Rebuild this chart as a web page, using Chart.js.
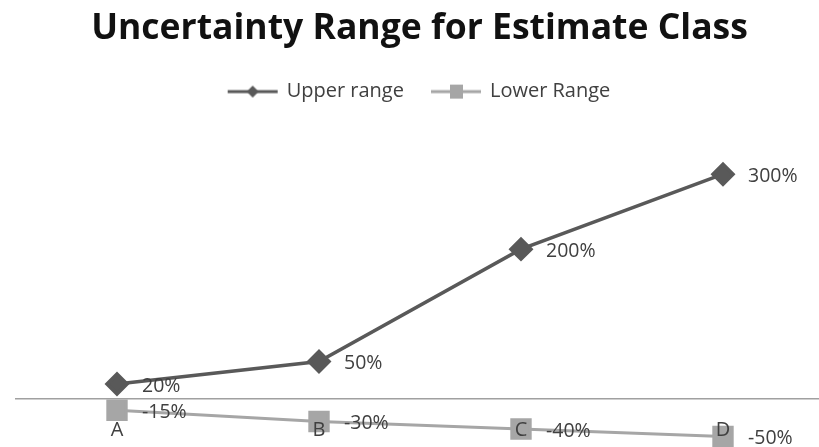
<!DOCTYPE html>
<html>
<head>
<meta charset="utf-8">
<script src="https://cdn.jsdelivr.net/npm/chart.js@4.4.1/dist/chart.umd.min.js"></script>
<style>
  html, body { margin: 0; padding: 0; background: #ffffff; overflow: hidden; }
  #wrap { width: 840px; height: 460px; }
</style>
</head>
<body>
<div id="wrap"><canvas id="chart" width="840" height="460"></canvas></div>
<script>
// Estimate classes and their uncertainty bounds (percent)
const classes = ['A', 'B', 'C', 'D'];
const upperRange = [20, 50, 200, 300];
const lowerRange = [-15, -30, -40, -50];

const upperColor = '#595959';
const lowerColor = '#a6a6a6';
const textColor = '#404040';
const fontFamily = '"Open Sans", Lato, sans-serif';

// Small line-with-marker swatch used as the legend symbol
function legendSwatch(color, style) {
  const c = document.createElement('canvas');
  c.width = 54; c.height = 20;
  const g = c.getContext('2d');
  g.strokeStyle = color;
  g.lineWidth = 3;
  g.beginPath();
  g.moveTo(2, 10); g.lineTo(52, 10);
  g.stroke();
  g.fillStyle = color;
  if (style === 'diamond') {
    g.beginPath();
    g.moveTo(27, 4); g.lineTo(33, 10); g.lineTo(27, 16); g.lineTo(21, 10);
    g.closePath(); g.fill();
  } else {
    g.fillRect(21, 3, 13, 14);
  }
  return c;
}

// Value labels printed to the right of each point
const valueLabels = {
  id: 'valueLabels',
  afterDatasetsDraw(chart) {
    const ctx = chart.ctx;
    ctx.save();
    ctx.font = '19.5px ' + fontFamily;
    ctx.fillStyle = textColor;
    ctx.textAlign = 'left';
    ctx.textBaseline = 'middle';
    chart.data.datasets.forEach((ds, i) => {
      const meta = chart.getDatasetMeta(i);
      meta.data.forEach((pt, j) => {
        ctx.fillText(ds.data[j] + '%', pt.x + 25, pt.y + 2);
      });
    });
    ctx.restore();
  }
};

new Chart(document.getElementById('chart'), {
  type: 'line',
  data: {
    labels: classes,
    datasets: [
      {
        label: 'Upper range',
        data: upperRange,
        borderColor: upperColor,
        backgroundColor: upperColor,
        borderWidth: 3.5,
        pointStyle: 'rectRot',
        pointRadius: 10,
        pointHoverRadius: 10,
        tension: 0,
        clip: false
      },
      {
        label: 'Lower Range',
        data: lowerRange,
        borderColor: lowerColor,
        backgroundColor: lowerColor,
        borderWidth: 3,
        pointStyle: 'rect',
        pointRadius: 13,
        pointHoverRadius: 13,
        tension: 0,
        clip: false
      }
    ]
  },
  options: {
    responsive: false,
    animation: false,
    events: [],
    layout: { padding: { left: 13, right: 14, top: 0, bottom: 11.4 } },
    plugins: {
      title: {
        display: true,
        text: 'Uncertainty Range for Estimate Class',
        color: '#111111',
        font: { family: fontFamily, size: 35.5, weight: 'bold' },
        padding: { top: 8, bottom: 3 }
      },
      legend: {
        display: true,
        position: 'top',
        labels: {
          usePointStyle: true,
          pointStyleWidth: 48,
          padding: 28,
          color: textColor,
          font: { family: fontFamily, size: 20 },
          generateLabels(chart) {
            return [
              { text: 'Upper range', pointStyle: legendSwatch(upperColor, 'diamond'), fillStyle: upperColor, strokeStyle: upperColor, lineWidth: 0, datasetIndex: 0, fontColor: textColor },
              { text: 'Lower Range', pointStyle: legendSwatch(lowerColor, 'square'), fillStyle: lowerColor, strokeStyle: lowerColor, lineWidth: 0, datasetIndex: 1, fontColor: textColor }
            ];
          }
        }
      },
      tooltip: { enabled: false }
    },
    scales: {
      x: {
        type: 'category',
        offset: true,
        position: { y: 0 },
        grid: { display: false, drawTicks: false },
        border: { display: true, color: '#a0a0a0', width: 1.5 },
        ticks: { color: textColor, font: { family: fontFamily, size: 20 }, padding: 19, z: 1 }
      },
      y: {
        display: false,
        min: -60,
        max: 383.5
      }
    }
  },
  plugins: [valueLabels]
});
</script>
</body>
</html>
